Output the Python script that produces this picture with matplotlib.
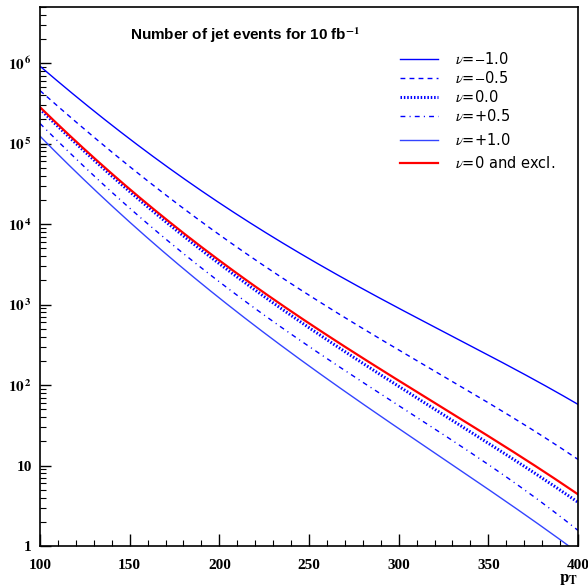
import numpy as np
import matplotlib
matplotlib.use('Agg')
import matplotlib.pyplot as plt

plt.rcParams['mathtext.fontset'] = 'stix'

# pT grid and log10 of the number of events
pt = [100, 125, 150, 175, 200, 225, 250, 275, 300, 325, 350, 375, 400]
log_nu_m10 = [5.96, 5.50, 5.06, 4.64, 4.26, 3.91, 3.58, 3.25, 2.95, 2.66, 2.38, 2.07, 1.76]
log_nu_m05 = [5.66, 5.17, 4.71, 4.30, 3.86, 3.47, 3.11, 2.78, 2.44, 2.11, 1.78, 1.43, 1.08]
log_nu_00 = [5.43, 4.89, 4.41, 3.97, 3.49, 3.07, 2.71, 2.37, 1.99, 1.63, 1.27, 0.91, 0.55]
log_nu_p05 = [5.25, 4.70, 4.20, 3.75, 3.27, 2.84, 2.48, 2.13, 1.75, 1.38, 1.01, 0.61, 0.20]
log_nu_p10 = [5.09, 4.54, 4.04, 3.53, 3.07, 2.65, 2.25, 1.84, 1.46, 1.08, 0.71, 0.31, -0.08]
log_nu_excl = [5.45, 4.92, 4.45, 3.99, 3.53, 3.12, 2.77, 2.43, 2.06, 1.71, 1.36, 1.00, 0.65]

labels = [r'$\nu$=$-$1.0', r'$\nu$=$-$0.5', r'$\nu$=0.0', r'$\nu$=+0.5', r'$\nu$=+1.0', r'$\nu$=0 and excl.']

fig = plt.figure(figsize=(5.88, 5.88), dpi=100)
ax = fig.add_axes([0.068, 0.0714, 0.915, 0.917])

# smooth curve through the read points (low order fit in log space)
x = np.linspace(100, 400, 301)
def curve(vals):
    c = np.polyfit(pt, vals, 4)
    return 10 ** np.polyval(c, x)

blue = '#0000ff'
h = []
h += ax.plot(x, curve(log_nu_m10), color=blue, lw=1.0)
h += ax.plot(x, curve(log_nu_m05), color=blue, lw=1.0, dashes=(3.5, 3))
h += ax.plot(x, curve(log_nu_00), color=blue, lw=2.2, dashes=(0.5, 0.6))
h += ax.plot(x, curve(log_nu_p05), color=blue, lw=1.0, dashes=(3.5, 3, 0.8, 3))
h += ax.plot(x, curve(log_nu_p10), color='#3344ff', lw=1.0)
h += ax.plot(x, curve(log_nu_excl), color='#ff0000', lw=1.6)

ax.set_yscale('log')
ax.set_xlim(100, 400)
ax.set_ylim(1, 5.0e6)

# ROOT-like frame and ticks
for s in ax.spines.values():
    s.set_linewidth(1.2)
ax.tick_params(axis='both', which='both', direction='in', top=False, right=False)
ax.tick_params(axis='y', which='major', length=8, width=1.0)
ax.tick_params(axis='y', which='minor', length=4, width=0.8)
ax.tick_params(axis='x', which='major', length=9, width=1.0)
ax.tick_params(axis='x', which='minor', length=4, width=0.8)
ax.set_xticks([100, 150, 200, 250, 300, 350, 400])
ax.set_xticks(np.arange(100, 401, 10), minor=True)
ax.set_xticklabels(['100', '150', '200', '250', '300', '350', '400'],
                   family='Liberation Serif', fontweight='bold', fontsize=11)
yt = [1, 10, 1e2, 1e3, 1e4, 1e5, 1e6]
ylab = ['1', '10'] + [r'$\mathbf{10^{\,%d}}$' % k for k in range(2, 7)]
ax.set_yticks(yt)
ax.set_yticklabels(ylab, family='Liberation Serif', fontweight='bold', fontsize=11)
ax.tick_params(axis='x', pad=9)
ax.tick_params(axis='y', pad=6)

ax.text(1.0, -0.06, r'$\mathbf{p_T}$', transform=ax.transAxes, ha='right', va='center', fontsize=12)

ax.text(0.381, 0.948, r'Number of jet events for 10 fb$^{\mathbf{-1}}$', transform=ax.transAxes,
        ha='center', va='center', family='Liberation Sans', fontweight='bold', fontsize=11)

# legend in two blocks, the last two rows are spaced wider
prop = {'family': 'DejaVu Sans', 'size': 10.5}
leg1 = ax.legend(h[:4], labels[:4], loc='upper left', bbox_to_anchor=(0.655, 0.931), frameon=False,
                 handlelength=2.6, handletextpad=1.2, labelspacing=0.2, borderpad=0, prop=prop)
ax.add_artist(leg1)
ax.legend(h[4:], labels[4:], loc='upper left', bbox_to_anchor=(0.655, 0.781), frameon=False,
          handlelength=2.6, handletextpad=1.2, labelspacing=0.5, borderpad=0, prop=prop)

fig.savefig('out.png', dpi=100)
